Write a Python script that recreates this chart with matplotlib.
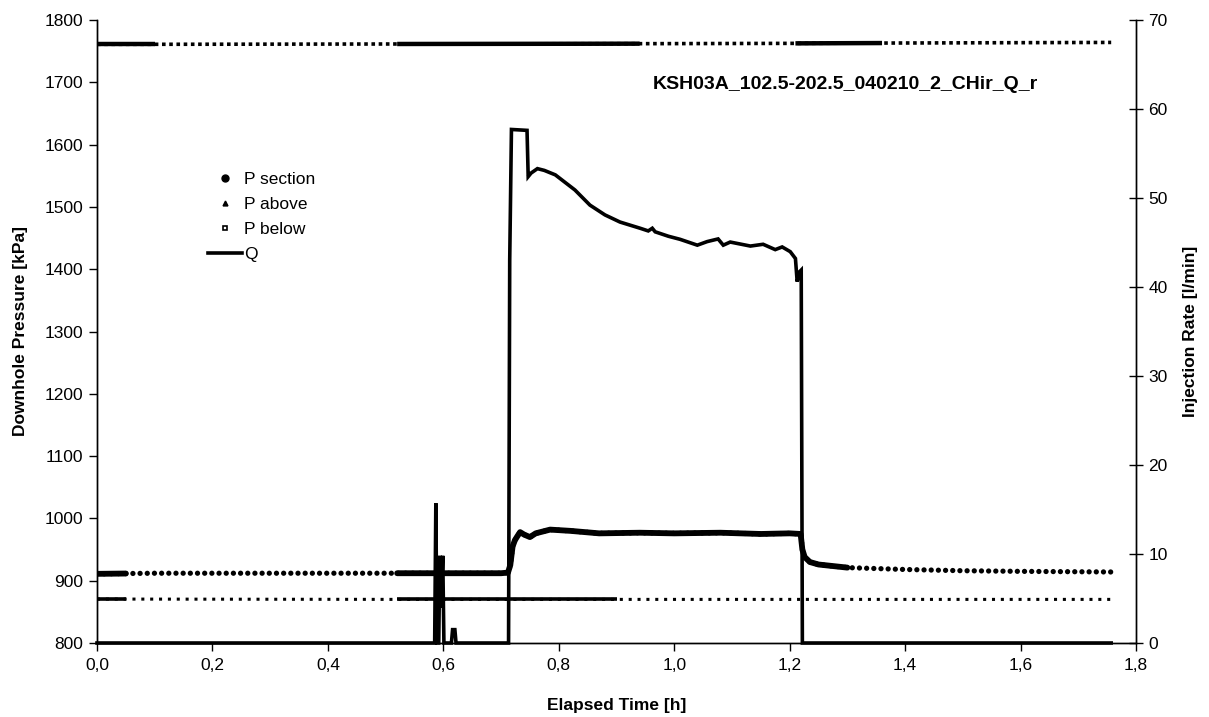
import numpy as np
import matplotlib
matplotlib.use("Agg")
import matplotlib.pyplot as plt
from matplotlib.lines import Line2D
from matplotlib.ticker import FuncFormatter

plt.rcParams['font.family'] = ['Liberation Sans', 'DejaVu Sans']

# ---- data ----
t_sec = [0.0, 0.05, 0.10, 0.20, 0.30, 0.40, 0.52, 0.60, 0.70, 0.712, 0.716, 0.720, 0.724,
         0.728, 0.733, 0.740, 0.750, 0.760, 0.785, 0.82, 0.87, 0.94, 1.00, 1.08, 1.15,
         1.20, 1.219, 1.222, 1.226, 1.235, 1.25, 1.30, 1.40, 1.50, 1.60, 1.757]
p_sec = [911, 911.5, 912, 912, 912, 912, 912, 912, 912, 913, 925, 955, 965,
         971, 978, 974, 970, 976, 982, 980, 976, 977, 976, 977, 975,
         976, 975, 950, 938, 930, 926, 921, 918, 916, 915, 914]

t_abv = [0.0, 0.05, 0.52, 0.90, 1.20, 1.757]
p_abv = [870.5, 870.5, 870, 870, 870, 870]

t_blw = [0.0, 0.10, 0.52, 0.94, 1.21, 1.36, 1.757]
p_blw = [1761, 1761, 1761.5, 1762, 1762.5, 1763, 1764]

t_q = [0.0, 0.585, 0.587, 0.589, 0.592, 0.594, 0.596, 0.599, 0.601, 0.614, 0.616, 0.620,
       0.622, 0.713, 0.715, 0.718, 0.745, 0.747, 0.752, 0.763, 0.775, 0.794, 0.81, 0.828,
       0.854, 0.88, 0.906, 0.941, 0.955, 0.962, 0.967, 0.99, 1.010, 1.040, 1.057, 1.076,
       1.085, 1.097, 1.132, 1.154, 1.175, 1.187, 1.201, 1.210, 1.213, 1.217, 1.220, 1.222,
       1.757]
q = [0, 0, 15.7, 0, 0, 9.8, 4, 9.8, 0, 0, 1.5, 1.5,
     0, 0, 43, 57.7, 57.6, 52.4, 52.8, 53.3, 53.1, 52.6, 51.8, 50.9,
     49.2, 48.1, 47.3, 46.6, 46.3, 46.6, 46.2, 45.7, 45.36, 44.7, 45.1, 45.4,
     44.7, 45.05, 44.6, 44.8, 44.2, 44.5, 43.97, 43.2, 40.6, 41.7, 41.9, 0,
     0]

# time ranges where the logger points overlap into a solid band
dense_sec = [(0.0, 0.05), (0.52, 1.30)]
dense_abv = [(0.0, 0.05), (0.52, 0.90)]
dense_blw = [(0.0, 0.10), (0.52, 0.94), (1.21, 1.36)]

x_ticks = [0.0, 0.2, 0.4, 0.6, 0.8, 1.0, 1.2, 1.4, 1.6, 1.8]
y_ticks = list(range(800, 1801, 100))
q_ticks = list(range(0, 71, 10))

title = "KSH03A_102.5-202.5_040210_2_CHir_Q_r"

# ---- figure ----
W, H = 1209, 717
fig = plt.figure(figsize=(W / 100, H / 100), dpi=100)
L, R, T, B = 97, 1136, 20, 643
ax = fig.add_axes([L / W, (H - B) / H, (R - L) / W, (B - T) / H])
ax2 = ax.twinx()

def dense_part(t, p, ranges):
    t = np.asarray(t); p = np.asarray(p)
    out = []
    for a, b in ranges:
        m = (t >= a - 1e-9) & (t <= b + 1e-9)
        out.append((t[m], p[m]))
    return out

# P below (small squares)
ax.plot(t_blw, p_blw, color='black', lw=2.6, linestyle=(0, (1.0, 1.0)),
        dash_capstyle='butt', zorder=3)
for tt, pp in dense_part(t_blw, p_blw, dense_blw):
    ax.plot(tt, pp, color='black', lw=3.2, solid_capstyle='butt', zorder=3)

# P above (small triangles)
ax.plot(t_abv, p_abv, color='black', lw=2.2, linestyle=(0, (1.0, 1.9)),
        dash_capstyle='butt', zorder=3)
for tt, pp in dense_part(t_abv, p_abv, dense_abv):
    ax.plot(tt, pp, color='black', lw=2.6, solid_capstyle='butt', zorder=3)

# P section (dots)
ax.plot(t_sec, p_sec, color='black', lw=3.8, linestyle=(0, (0.01, 1.35)),
        dash_capstyle='round', zorder=3)
for tt, pp in dense_part(t_sec, p_sec, dense_sec):
    ax.plot(tt, pp, color='black', lw=4.2, solid_capstyle='round', zorder=3)

# Q
ax2.plot(t_q, q, color='black', lw=2.6, solid_joinstyle='miter', clip_on=False, zorder=4)

ax.set_xlim(0, 1.8)
ax.set_ylim(800, 1800)
ax2.set_ylim(0, 70)
ax.set_xticks(x_ticks)
ax.set_yticks(y_ticks)
ax2.set_yticks(q_ticks)
ax.xaxis.set_major_formatter(FuncFormatter(lambda v, p: f"{v:.1f}".replace('.', ',')))

fs = 12.5
ax.tick_params(axis='x', direction='out', length=6, width=1, labelsize=fs, pad=5)
ax.tick_params(axis='y', direction='out', length=6, width=1, labelsize=fs, pad=4)
ax2.tick_params(axis='y', direction='inout', length=10, width=1, labelsize=fs, pad=4)
for a in (ax, ax2):
    a.spines['top'].set_visible(False)
    for s in a.spines.values():
        s.set_linewidth(1.0)

ax.set_xlabel("Elapsed Time [h]", fontsize=fs, fontweight='bold', labelpad=18)
ax.set_ylabel("Downhole Pressure [kPa]", fontsize=fs, fontweight='bold', labelpad=12)
ax2.set_ylabel("Injection Rate [l/min]", fontsize=fs, fontweight='bold', labelpad=11)

ax.text(0.535, 0.896, title, transform=ax.transAxes, fontsize=14, fontweight='bold',
        ha='left', va='center')

handles = [
    Line2D([], [], color='black', marker='o', linestyle='none', markersize=5),
    Line2D([], [], color='black', marker='^', linestyle='none', markersize=3.5),
    Line2D([], [], color='black', marker='s', linestyle='none', markersize=3.5,
           markerfacecolor='white', markeredgewidth=1.2),
    Line2D([], [], color='black', lw=2.6),
]
labels = ["P section", "P above", "P below", "Q"]
fig.legend(handles, labels, loc='upper left', bbox_to_anchor=(208 / W, 1 - 172 / H),
           frameon=False, fontsize=fs, handlelength=1.95, handletextpad=0.15,
           labelspacing=0.56, borderpad=0, borderaxespad=0)

fig.savefig("out.png", dpi=100)
